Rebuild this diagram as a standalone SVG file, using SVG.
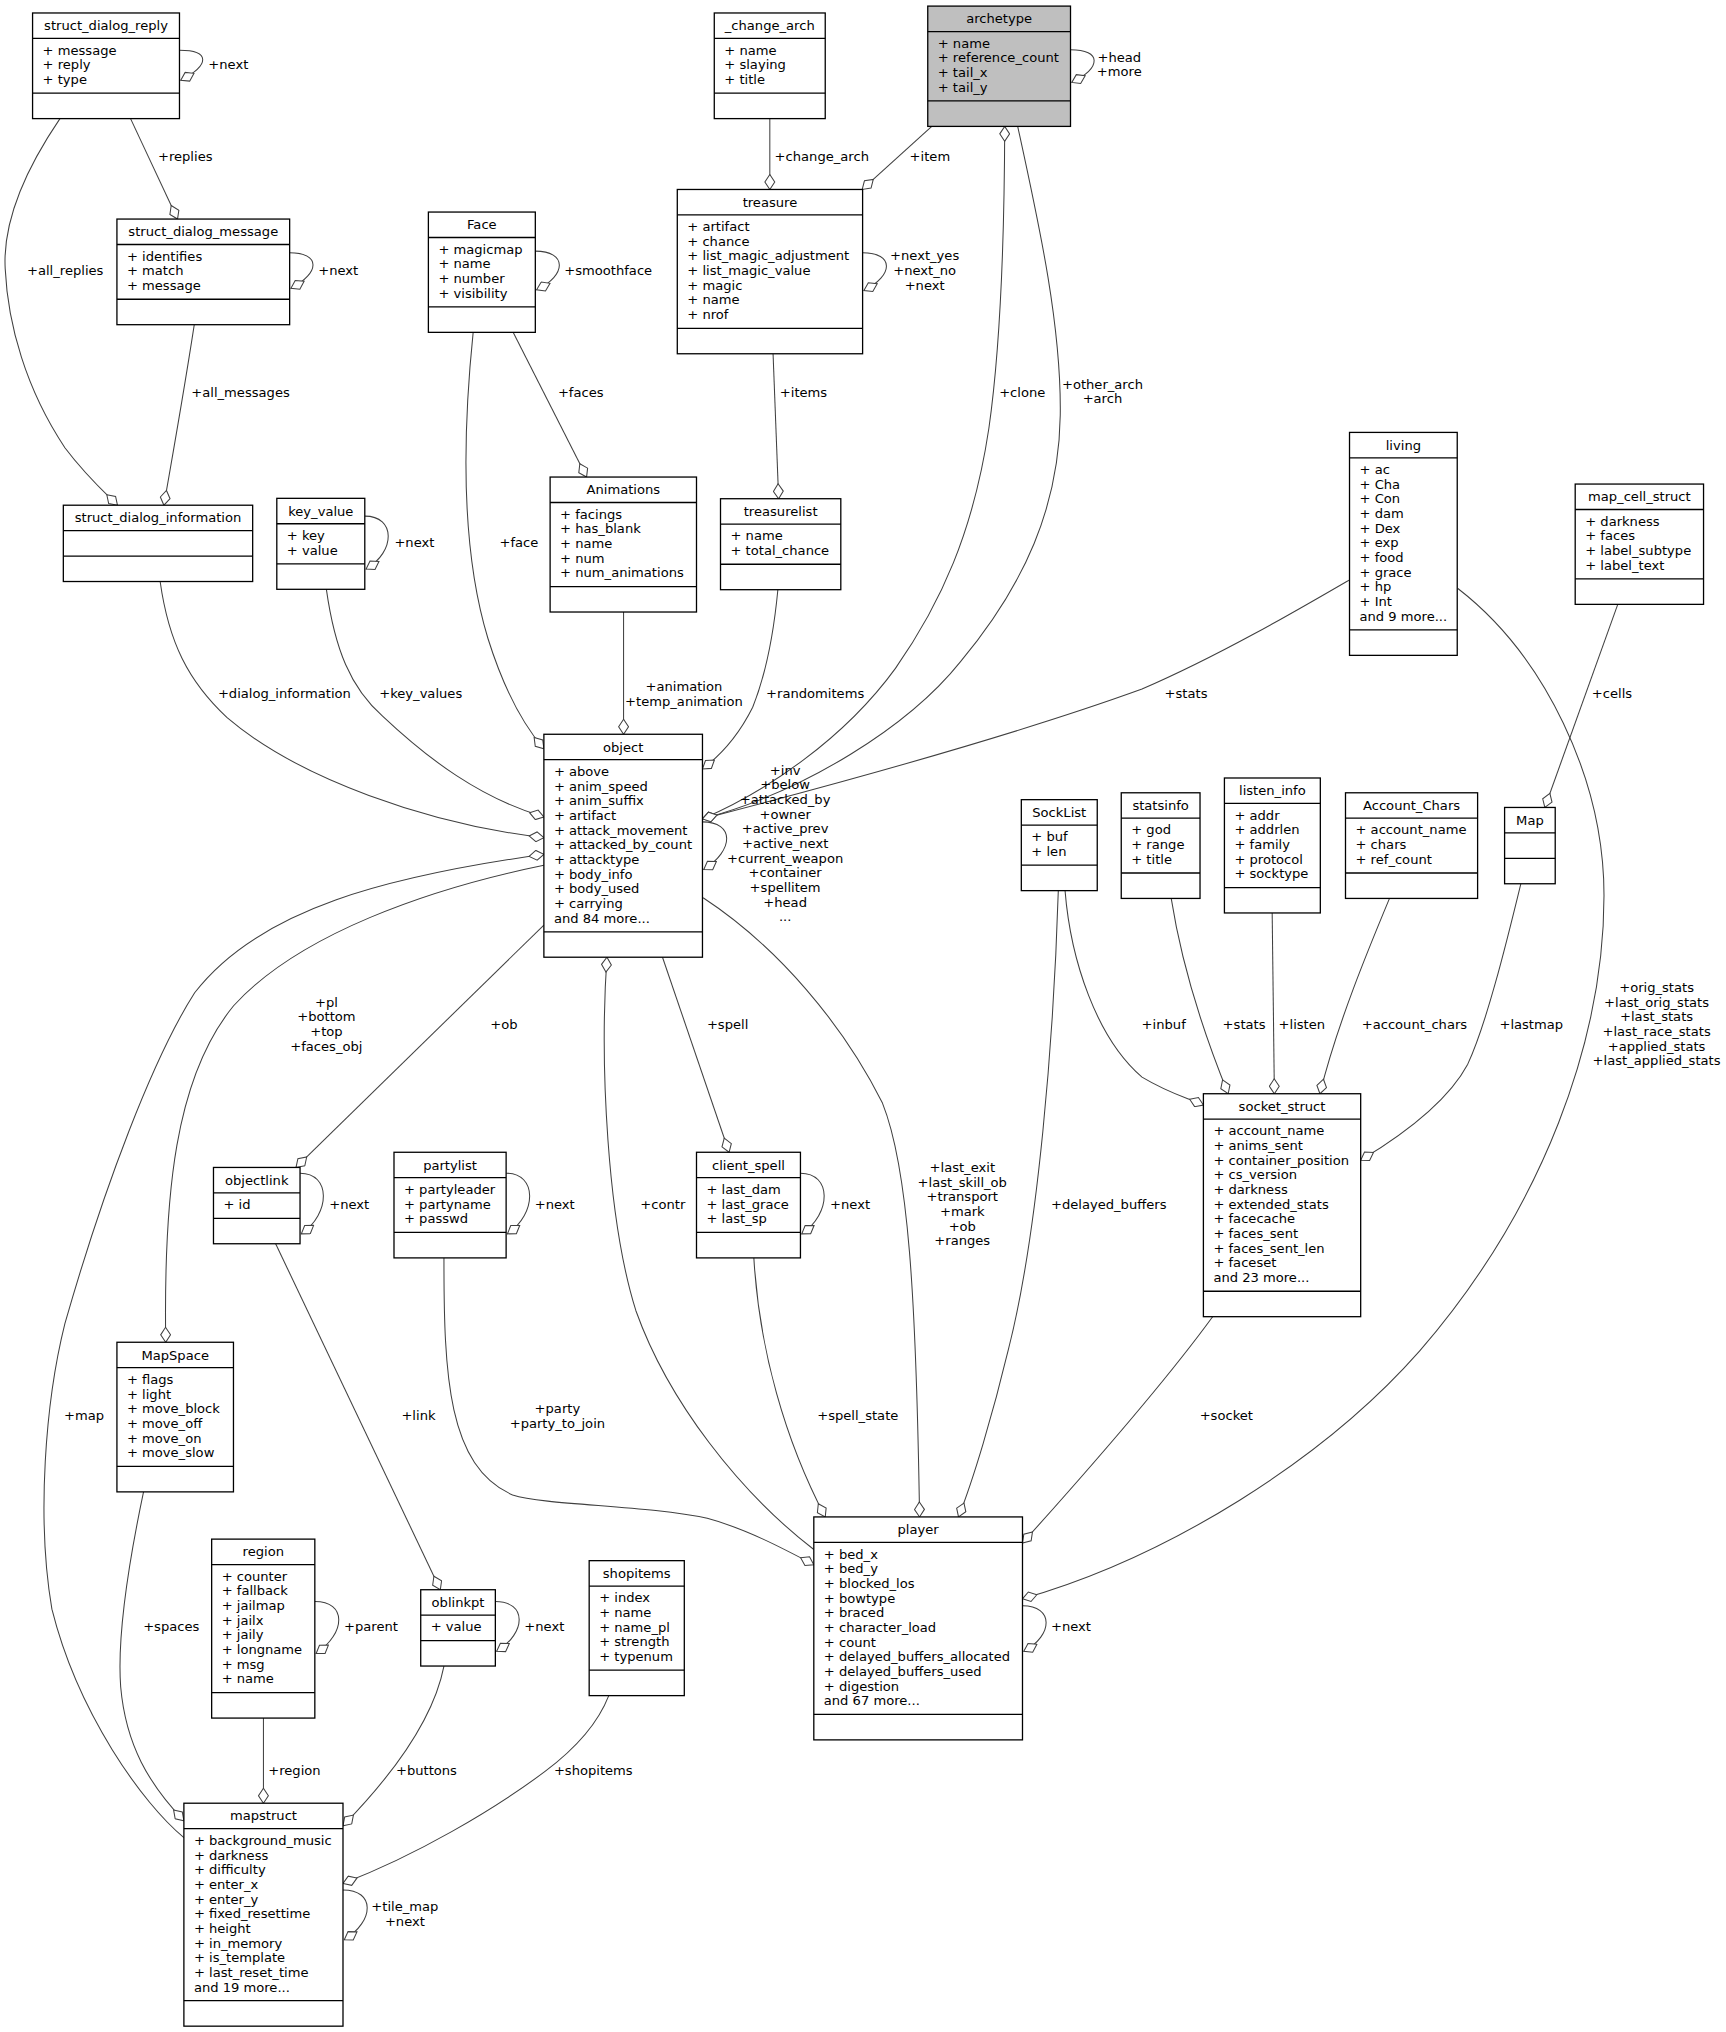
<svg xmlns="http://www.w3.org/2000/svg" width="1726" height="2032" viewBox="0 0 1726 2032">
<style>
.b{fill:#fff;stroke:#000;stroke-width:1}
.g{fill:#bfbfbf;stroke:#000;stroke-width:1}
.s{stroke:#000;stroke-width:1}
text{font-family:"DejaVu Sans","Liberation Sans",sans-serif;font-size:10.1px;fill:#000}
.t,.m{text-anchor:middle}
.e{fill:none;stroke:#404040;stroke-width:0.8;marker-end:url(#d)}
</style>
<defs>
<marker id="d" markerUnits="userSpaceOnUse" viewBox="-0.6 -0.6 12.7 8.8" refX="11.5" refY="3.8" markerWidth="12.7" markerHeight="8.8" orient="auto">
<path d="M0,3.8 L5.75,0 L11.5,3.8 L5.75,7.6 Z" fill="#fff" stroke="#404040" stroke-width="0.8"/>
</marker>
</defs>
<rect x="0" y="0" width="1726" height="2032" fill="#fff"/>
<g transform="scale(1.29774)">
<g id="edges">
<path class="e" d="M138.3,38.8 C162,38.8 162,50 139.3,61.8"/>
<path class="e" d="M100.6,91.4 L136.8,168.8"/>
<path class="e" d="M46.2,91.4 C20,130 2,170 4,207 C6,250 20,300 50,345 C65,365 78,377 90.5,389.3"/>
<path class="e" d="M149.7,250.2 C142,300 135,340 126.3,389.3"/>
<path class="e" d="M223.2,194.8 C247,194.8 247,210 224.2,222.2"/>
<path class="e" d="M123.4,448.1 C130,495 145,525 175,553 C230,600 330,635 419.1,645.5"/>
<path class="e" d="M251.5,454.1 C258,500 270,530 295,552 C330,585 370,615 419.1,629.5"/>
<path class="e" d="M281.1,397.7 C305,397.7 305,425 282.1,438.5"/>
<path class="e" d="M412.5,193.5 C437,193.5 437,212 413.5,223.3"/>
<path class="e" d="M395.4,256.1 L452,367.6"/>
<path class="e" d="M364.6,256.1 C357,330 354,420 376,492 C387,527 401,556 419.1,577"/>
<path class="e" d="M480.5,471.6 L480.5,565.8"/>
<path class="e" d="M599.4,454.4 C596,490 590,520 580,545 C570,565 558,580 541.3,592.5"/>
<path class="e" d="M593.2,91.4 L593.2,146"/>
<path class="e" d="M718,97.4 L664.4,146"/>
<path class="e" d="M824.9,38.4 C849,38.4 849,52 825.9,63.5"/>
<path class="e" d="M664.7,194.8 C689,194.8 689,212 665.7,223.9"/>
<path class="e" d="M595.7,272.6 L600,384.3"/>
<path class="e" d="M541.3,631 C590,610 650,570 690,515 C725,465 750,410 762,330 C772,260 774,170 774.2,97.4"/>
<path class="e" d="M784.2,97.4 C800,170 818,250 817,320 C816,390 790,450 740,510 C700,560 620,610 541.3,631"/>
<path class="e" d="M1039.9,446.8 C1000,470 940,505 880,531 C800,560 680,595 541.3,631"/>
<path class="e" d="M541.3,633.3 C566,633.3 566,655 542.3,670"/>
<path class="e" d="M1123.4,453.5 C1190,505 1236,600 1236,690 C1236,800 1190,930 1094,1041 C1020,1125 900,1200 787.9,1232"/>
<path class="e" d="M1246.6,465.7 L1190.4,622.2"/>
<path class="e" d="M1171.9,681 C1160,730 1145,790 1131,820 C1115,850 1080,875 1048.5,894"/>
<path class="e" d="M1070.7,692.3 C1055,730 1030,790 1017.1,842.8"/>
<path class="e" d="M980.3,703.5 L982,842.8"/>
<path class="e" d="M902.5,692.3 C910,740 925,790 946.4,842.8"/>
<path class="e" d="M820.7,686.3 C825,740 845,800 880,830 C900,842 912,845 927.3,851.5"/>
<path class="e" d="M815.5,686.3 C812,800 800,950 777,1040 C765,1090 750,1140 738.6,1168.9"/>
<path class="e" d="M934.4,1014.6 C905,1055 850,1120 787.9,1189"/>
<path class="e" d="M541.8,691.8 C600,730 650,790 680,850 C700,900 706,1000 708.6,1168.9"/>
<path class="e" d="M627.1,1194 C570,1150 515,1080 490,1010 C468,940 462,820 467.7,737.6"/>
<path class="e" d="M510.5,737.6 L561.8,887.9"/>
<path class="e" d="M616.8,904 C641,904 641,935 617.8,950.8"/>
<path class="e" d="M580.9,969.3 C585,1040 605,1110 635.9,1168.9"/>
<path class="e" d="M390,904 C414,904 414,935 391,950.8"/>
<path class="e" d="M342.1,969.3 C342,1060 345,1130 395,1152 C420,1160 500,1160 545,1170 C575,1178 605,1194 627.1,1205.7"/>
<path class="e" d="M419.1,712.8 L228.1,899.6"/>
<path class="e" d="M231.2,904 C255,904 255,935 232.2,950.8"/>
<path class="e" d="M212.4,958.4 L339.3,1225"/>
<path class="e" d="M381.7,1234.1 C406,1234.1 406,1258 382.7,1272.5"/>
<path class="e" d="M242.6,1234.1 C267,1234.1 267,1258 243.6,1274.2"/>
<path class="e" d="M203,1323.9 L203,1389.5"/>
<path class="e" d="M342.1,1283.8 C335,1320 310,1360 264.3,1406.9"/>
<path class="e" d="M469.1,1306.6 C460,1330 440,1350 420,1365 C380,1395 320,1430 264.3,1451.3"/>
<path class="e" d="M264.3,1456.3 C289,1456.3 289,1480 265.3,1494.7"/>
<path class="e" d="M110.6,1149.6 C100,1200 90,1260 93,1300 C97,1345 115,1375 141.7,1403"/>
<path class="e" d="M141.7,1416 C110,1390 60,1320 40,1240 C28,1170 35,1080 50,1020 C80,915 118,815 150,765 C200,700 300,675 419.1,658.3"/>
<path class="e" d="M419.1,666.7 C330,685 230,720 180,775 C135,830 126,920 127.7,1034.3"/>
<path class="e" d="M787.9,1237.4 C812,1237.4 812,1260 788.9,1272.5"/>
<g id="edge-labels">
<text x="160.5" y="53">+next</text>
<text x="121.7" y="123.8">+replies</text>
<text x="20.8" y="211.7">+all_replies</text>
<text x="147.4" y="306">+all_messages</text>
<text x="245.2" y="211.7">+next</text>
<text x="303.9" y="421.6">+next</text>
<text x="434.8" y="211.7">+smoothface</text>
<text x="429.9" y="306">+faces</text>
<text x="384.9" y="421.6">+face</text>
<text class="m" x="527" y="532.5">+animation</text>
<text class="m" x="527" y="543.8">+temp_animation</text>
<text x="590.3" y="537.6">+randomitems</text>
<text x="596.9" y="123.8">+change_arch</text>
<text x="700.9" y="123.8">+item</text>
<text class="m" x="862.5" y="47.6">+head</text>
<text class="m" x="862.5" y="58.9">+more</text>
<text class="m" x="712.5" y="200.5">+next_yes</text>
<text class="m" x="712.5" y="211.8">+next_no</text>
<text class="m" x="712.5" y="223.1">+next</text>
<text x="600.9" y="305.6">+items</text>
<text x="769.9" y="305.6">+clone</text>
<text class="m" x="849.5" y="299.6">+other_arch</text>
<text class="m" x="849.5" y="310.9">+arch</text>
<text x="897.4" y="537.6">+stats</text>
<text x="1226.6" y="537.6">+cells</text>
<text class="m" x="605" y="597">+inv</text>
<text class="m" x="605" y="608.3">+below</text>
<text class="m" x="605" y="619.6">+attacked_by</text>
<text class="m" x="605" y="630.9">+owner</text>
<text class="m" x="605" y="642.2">+active_prev</text>
<text class="m" x="605" y="653.5">+active_next</text>
<text class="m" x="605" y="664.8">+current_weapon</text>
<text class="m" x="605" y="676.1">+container</text>
<text class="m" x="605" y="687.4">+spellitem</text>
<text class="m" x="605" y="698.7">+head</text>
<text class="m" x="605" y="710">...</text>
<text class="m" x="1276.5" y="764.5">+orig_stats</text>
<text class="m" x="1276.5" y="775.8">+last_orig_stats</text>
<text class="m" x="1276.5" y="787.1">+last_stats</text>
<text class="m" x="1276.5" y="798.4">+last_race_stats</text>
<text class="m" x="1276.5" y="809.7">+applied_stats</text>
<text class="m" x="1276.5" y="821">+last_applied_stats</text>
<text x="1155.4" y="792.8">+lastmap</text>
<text x="1049.3" y="792.8">+account_chars</text>
<text x="985.2" y="792.8">+listen</text>
<text x="942.1" y="792.8">+stats</text>
<text x="879.7" y="792.8">+inbuf</text>
<text x="809.8" y="931.6">+delayed_buffers</text>
<text x="924.4" y="1094.2">+socket</text>
<text class="m" x="741.5" y="903.1">+last_exit</text>
<text class="m" x="741.5" y="914.4">+last_skill_ob</text>
<text class="m" x="741.5" y="925.7">+transport</text>
<text class="m" x="741.5" y="937">+mark</text>
<text class="m" x="741.5" y="948.3">+ob</text>
<text class="m" x="741.5" y="959.6">+ranges</text>
<text x="493.4" y="931.6">+contr</text>
<text x="544.7" y="792.8">+spell</text>
<text x="639.6" y="931.6">+next</text>
<text x="629.7" y="1094.2">+spell_state</text>
<text x="412" y="931.6">+next</text>
<text class="m" x="429.5" y="1088.8">+party</text>
<text class="m" x="429.5" y="1100.1">+party_to_join</text>
<text x="377.8" y="792.8">+ob</text>
<text x="253.7" y="931.6">+next</text>
<text x="309.3" y="1094.2">+link</text>
<text class="m" x="251.5" y="775.8">+pl</text>
<text class="m" x="251.5" y="787.1">+bottom</text>
<text class="m" x="251.5" y="798.4">+top</text>
<text class="m" x="251.5" y="809.7">+faces_obj</text>
<text x="167.9" y="537.6">+dialog_information</text>
<text x="292.2" y="537.6">+key_values</text>
<text x="49.3" y="1094.2">+map</text>
<text x="110.3" y="1256.6">+spaces</text>
<text x="265.1" y="1256.6">+parent</text>
<text x="404" y="1256.6">+next</text>
<text x="206.7" y="1368">+region</text>
<text x="305.1" y="1368">+buttons</text>
<text x="426.8" y="1368">+shopitems</text>
<text class="m" x="312" y="1472.6">+tile_map</text>
<text class="m" x="312" y="1483.9">+next</text>
<text x="809.8" y="1256.6">+next</text>
</g>
</g>

<g id="node-struct_dialog_reply">
<rect class="b" x="25.1" y="10" width="113.2" height="81.4"/>
<line class="s" x1="25.1" y1="29.6" x2="138.3" y2="29.6"/><line class="s" x1="25.1" y1="71.8" x2="138.3" y2="71.8"/>
<text class="t" x="81.7" y="23.3">struct_dialog_reply</text>
<text x="32.8" y="42.1"><tspan x="32.8">+ message</tspan><tspan x="32.8" dy="11.3">+ reply</tspan><tspan x="32.8" dy="11.3">+ type</tspan></text>
</g>
<g id="node-struct_dialog_message">
<rect class="b" x="90.1" y="168.8" width="133.1" height="81.4"/>
<line class="s" x1="90.1" y1="188.4" x2="223.2" y2="188.4"/><line class="s" x1="90.1" y1="230.6" x2="223.2" y2="230.6"/>
<text class="t" x="156.65" y="182.1">struct_dialog_message</text>
<text x="97.8" y="200.9"><tspan x="97.8">+ identifies</tspan><tspan x="97.8" dy="11.3">+ match</tspan><tspan x="97.8" dy="11.3">+ message</tspan></text>
</g>
<g id="node-struct_dialog_information">
<rect class="b" x="48.8" y="389.3" width="145.9" height="58.8"/>
<line class="s" x1="48.8" y1="408.9" x2="194.7" y2="408.9"/><line class="s" x1="48.8" y1="428.5" x2="194.7" y2="428.5"/>
<text class="t" x="121.75" y="402.6">struct_dialog_information</text>
</g>
<g id="node-key_value">
<rect class="b" x="213.3" y="384" width="67.8" height="70.1"/>
<line class="s" x1="213.3" y1="403.6" x2="281.1" y2="403.6"/><line class="s" x1="213.3" y1="434.5" x2="281.1" y2="434.5"/>
<text class="t" x="247.2" y="397.3">key_value</text>
<text x="221" y="416.1"><tspan x="221">+ key</tspan><tspan x="221" dy="11.3">+ value</tspan></text>
</g>
<g id="node-Face">
<rect class="b" x="330.1" y="163.4" width="82.4" height="92.7"/>
<line class="s" x1="330.1" y1="183" x2="412.5" y2="183"/><line class="s" x1="330.1" y1="236.5" x2="412.5" y2="236.5"/>
<text class="t" x="371.3" y="176.7">Face</text>
<text x="337.8" y="195.5"><tspan x="337.8">+ magicmap</tspan><tspan x="337.8" dy="11.3">+ name</tspan><tspan x="337.8" dy="11.3">+ number</tspan><tspan x="337.8" dy="11.3">+ visibility</tspan></text>
</g>
<g id="node-Animations">
<rect class="b" x="423.9" y="367.6" width="112.8" height="104"/>
<line class="s" x1="423.9" y1="387.2" x2="536.7" y2="387.2"/><line class="s" x1="423.9" y1="452" x2="536.7" y2="452"/>
<text class="t" x="480.3" y="380.9">Animations</text>
<text x="431.6" y="399.7"><tspan x="431.6">+ facings</tspan><tspan x="431.6" dy="11.3">+ has_blank</tspan><tspan x="431.6" dy="11.3">+ name</tspan><tspan x="431.6" dy="11.3">+ num</tspan><tspan x="431.6" dy="11.3">+ num_animations</tspan></text>
</g>
<g id="node-treasurelist">
<rect class="b" x="555.2" y="384.3" width="92.7" height="70.1"/>
<line class="s" x1="555.2" y1="403.9" x2="647.9" y2="403.9"/><line class="s" x1="555.2" y1="434.8" x2="647.9" y2="434.8"/>
<text class="t" x="601.55" y="397.6">treasurelist</text>
<text x="562.9" y="416.4"><tspan x="562.9">+ name</tspan><tspan x="562.9" dy="11.3">+ total_chance</tspan></text>
</g>
<g id="node-_change_arch">
<rect class="b" x="550.4" y="10" width="85.5" height="81.4"/>
<line class="s" x1="550.4" y1="29.6" x2="635.9" y2="29.6"/><line class="s" x1="550.4" y1="71.8" x2="635.9" y2="71.8"/>
<text class="t" x="593.15" y="23.3">_change_arch</text>
<text x="558.1" y="42.1"><tspan x="558.1">+ name</tspan><tspan x="558.1" dy="11.3">+ slaying</tspan><tspan x="558.1" dy="11.3">+ title</tspan></text>
</g>
<g id="node-archetype">
<rect class="g" x="714.9" y="4.7" width="110" height="92.7"/>
<line class="s" x1="714.9" y1="24.3" x2="824.9" y2="24.3"/><line class="s" x1="714.9" y1="77.8" x2="824.9" y2="77.8"/>
<text class="t" x="769.9" y="18">archetype</text>
<text x="722.6" y="36.8"><tspan x="722.6">+ name</tspan><tspan x="722.6" dy="11.3">+ reference_count</tspan><tspan x="722.6" dy="11.3">+ tail_x</tspan><tspan x="722.6" dy="11.3">+ tail_y</tspan></text>
</g>
<g id="node-treasure">
<rect class="b" x="521.9" y="146" width="142.8" height="126.6"/>
<line class="s" x1="521.9" y1="165.6" x2="664.7" y2="165.6"/><line class="s" x1="521.9" y1="253" x2="664.7" y2="253"/>
<text class="t" x="593.3" y="159.3">treasure</text>
<text x="529.6" y="178.1"><tspan x="529.6">+ artifact</tspan><tspan x="529.6" dy="11.3">+ chance</tspan><tspan x="529.6" dy="11.3">+ list_magic_adjustment</tspan><tspan x="529.6" dy="11.3">+ list_magic_value</tspan><tspan x="529.6" dy="11.3">+ magic</tspan><tspan x="529.6" dy="11.3">+ name</tspan><tspan x="529.6" dy="11.3">+ nrof</tspan></text>
</g>
<g id="node-living">
<rect class="b" x="1039.9" y="333.2" width="83" height="171.8"/>
<line class="s" x1="1039.9" y1="352.8" x2="1122.9" y2="352.8"/><line class="s" x1="1039.9" y1="485.4" x2="1122.9" y2="485.4"/>
<text class="t" x="1081.4" y="346.5">living</text>
<text x="1047.6" y="365.3"><tspan x="1047.6">+ ac</tspan><tspan x="1047.6" dy="11.3">+ Cha</tspan><tspan x="1047.6" dy="11.3">+ Con</tspan><tspan x="1047.6" dy="11.3">+ dam</tspan><tspan x="1047.6" dy="11.3">+ Dex</tspan><tspan x="1047.6" dy="11.3">+ exp</tspan><tspan x="1047.6" dy="11.3">+ food</tspan><tspan x="1047.6" dy="11.3">+ grace</tspan><tspan x="1047.6" dy="11.3">+ hp</tspan><tspan x="1047.6" dy="11.3">+ Int</tspan><tspan x="1047.6" dy="11.3">and 9 more...</tspan></text>
</g>
<g id="node-map_cell_struct">
<rect class="b" x="1213.8" y="373" width="98.9" height="92.7"/>
<line class="s" x1="1213.8" y1="392.6" x2="1312.7" y2="392.6"/><line class="s" x1="1213.8" y1="446.1" x2="1312.7" y2="446.1"/>
<text class="t" x="1263.25" y="386.3">map_cell_struct</text>
<text x="1221.5" y="405.1"><tspan x="1221.5">+ darkness</tspan><tspan x="1221.5" dy="11.3">+ faces</tspan><tspan x="1221.5" dy="11.3">+ label_subtype</tspan><tspan x="1221.5" dy="11.3">+ label_text</tspan></text>
</g>
<g id="node-object">
<rect class="b" x="419.1" y="565.8" width="122.2" height="171.8"/>
<line class="s" x1="419.1" y1="585.4" x2="541.3" y2="585.4"/><line class="s" x1="419.1" y1="718" x2="541.3" y2="718"/>
<text class="t" x="480.2" y="579.1">object</text>
<text x="426.8" y="597.9"><tspan x="426.8">+ above</tspan><tspan x="426.8" dy="11.3">+ anim_speed</tspan><tspan x="426.8" dy="11.3">+ anim_suffix</tspan><tspan x="426.8" dy="11.3">+ artifact</tspan><tspan x="426.8" dy="11.3">+ attack_movement</tspan><tspan x="426.8" dy="11.3">+ attacked_by_count</tspan><tspan x="426.8" dy="11.3">+ attacktype</tspan><tspan x="426.8" dy="11.3">+ body_info</tspan><tspan x="426.8" dy="11.3">+ body_used</tspan><tspan x="426.8" dy="11.3">+ carrying</tspan><tspan x="426.8" dy="11.3">and 84 more...</tspan></text>
</g>
<g id="node-SockList">
<rect class="b" x="787" y="616.2" width="58.5" height="70.1"/>
<line class="s" x1="787" y1="635.8" x2="845.5" y2="635.8"/><line class="s" x1="787" y1="666.7" x2="845.5" y2="666.7"/>
<text class="t" x="816.25" y="629.5">SockList</text>
<text x="794.7" y="648.3"><tspan x="794.7">+ buf</tspan><tspan x="794.7" dy="11.3">+ len</tspan></text>
</g>
<g id="node-statsinfo">
<rect class="b" x="864" y="610.9" width="60.7" height="81.4"/>
<line class="s" x1="864" y1="630.5" x2="924.7" y2="630.5"/><line class="s" x1="864" y1="672.7" x2="924.7" y2="672.7"/>
<text class="t" x="894.35" y="624.2">statsinfo</text>
<text x="871.7" y="643"><tspan x="871.7">+ god</tspan><tspan x="871.7" dy="11.3">+ range</tspan><tspan x="871.7" dy="11.3">+ title</tspan></text>
</g>
<g id="node-listen_info">
<rect class="b" x="943.5" y="599.5" width="73.9" height="104"/>
<line class="s" x1="943.5" y1="619.1" x2="1017.4" y2="619.1"/><line class="s" x1="943.5" y1="683.9" x2="1017.4" y2="683.9"/>
<text class="t" x="980.45" y="612.8">listen_info</text>
<text x="951.2" y="631.6"><tspan x="951.2">+ addr</tspan><tspan x="951.2" dy="11.3">+ addrlen</tspan><tspan x="951.2" dy="11.3">+ family</tspan><tspan x="951.2" dy="11.3">+ protocol</tspan><tspan x="951.2" dy="11.3">+ socktype</tspan></text>
</g>
<g id="node-Account_Chars">
<rect class="b" x="1036.8" y="610.9" width="101.8" height="81.4"/>
<line class="s" x1="1036.8" y1="630.5" x2="1138.6" y2="630.5"/><line class="s" x1="1036.8" y1="672.7" x2="1138.6" y2="672.7"/>
<text class="t" x="1087.7" y="624.2">Account_Chars</text>
<text x="1044.5" y="643"><tspan x="1044.5">+ account_name</tspan><tspan x="1044.5" dy="11.3">+ chars</tspan><tspan x="1044.5" dy="11.3">+ ref_count</tspan></text>
</g>
<g id="node-Map">
<rect class="b" x="1159.4" y="622.2" width="39" height="58.8"/>
<line class="s" x1="1159.4" y1="641.8" x2="1198.4" y2="641.8"/><line class="s" x1="1159.4" y1="661.4" x2="1198.4" y2="661.4"/>
<text class="t" x="1178.9" y="635.5">Map</text>
</g>
<g id="node-socket_struct">
<rect class="b" x="927.3" y="842.8" width="121.2" height="171.8"/>
<line class="s" x1="927.3" y1="862.4" x2="1048.5" y2="862.4"/><line class="s" x1="927.3" y1="995" x2="1048.5" y2="995"/>
<text class="t" x="987.9" y="856.1">socket_struct</text>
<text x="935" y="874.9"><tspan x="935">+ account_name</tspan><tspan x="935" dy="11.3">+ anims_sent</tspan><tspan x="935" dy="11.3">+ container_position</tspan><tspan x="935" dy="11.3">+ cs_version</tspan><tspan x="935" dy="11.3">+ darkness</tspan><tspan x="935" dy="11.3">+ extended_stats</tspan><tspan x="935" dy="11.3">+ facecache</tspan><tspan x="935" dy="11.3">+ faces_sent</tspan><tspan x="935" dy="11.3">+ faces_sent_len</tspan><tspan x="935" dy="11.3">+ faceset</tspan><tspan x="935" dy="11.3">and 23 more...</tspan></text>
</g>
<g id="node-objectlink">
<rect class="b" x="164.5" y="899.6" width="66.7" height="58.8"/>
<line class="s" x1="164.5" y1="919.2" x2="231.2" y2="919.2"/><line class="s" x1="164.5" y1="938.8" x2="231.2" y2="938.8"/>
<text class="t" x="197.85" y="912.9">objectlink</text>
<text x="172.2" y="931.7">+ id</text>
</g>
<g id="node-partylist">
<rect class="b" x="303.6" y="887.9" width="86.4" height="81.4"/>
<line class="s" x1="303.6" y1="907.5" x2="390" y2="907.5"/><line class="s" x1="303.6" y1="949.7" x2="390" y2="949.7"/>
<text class="t" x="346.8" y="901.2">partylist</text>
<text x="311.3" y="920"><tspan x="311.3">+ partyleader</tspan><tspan x="311.3" dy="11.3">+ partyname</tspan><tspan x="311.3" dy="11.3">+ passwd</tspan></text>
</g>
<g id="node-client_spell">
<rect class="b" x="536.7" y="887.9" width="80.1" height="81.4"/>
<line class="s" x1="536.7" y1="907.5" x2="616.8" y2="907.5"/><line class="s" x1="536.7" y1="949.7" x2="616.8" y2="949.7"/>
<text class="t" x="576.75" y="901.2">client_spell</text>
<text x="544.4" y="920"><tspan x="544.4">+ last_dam</tspan><tspan x="544.4" dy="11.3">+ last_grace</tspan><tspan x="544.4" dy="11.3">+ last_sp</tspan></text>
</g>
<g id="node-MapSpace">
<rect class="b" x="90.1" y="1034.3" width="89.8" height="115.3"/>
<line class="s" x1="90.1" y1="1053.9" x2="179.9" y2="1053.9"/><line class="s" x1="90.1" y1="1130" x2="179.9" y2="1130"/>
<text class="t" x="135" y="1047.6">MapSpace</text>
<text x="97.8" y="1066.4"><tspan x="97.8">+ flags</tspan><tspan x="97.8" dy="11.3">+ light</tspan><tspan x="97.8" dy="11.3">+ move_block</tspan><tspan x="97.8" dy="11.3">+ move_off</tspan><tspan x="97.8" dy="11.3">+ move_on</tspan><tspan x="97.8" dy="11.3">+ move_slow</tspan></text>
</g>
<g id="node-region">
<rect class="b" x="163.1" y="1186" width="79.5" height="137.9"/>
<line class="s" x1="163.1" y1="1205.6" x2="242.6" y2="1205.6"/><line class="s" x1="163.1" y1="1304.3" x2="242.6" y2="1304.3"/>
<text class="t" x="202.85" y="1199.3">region</text>
<text x="170.8" y="1218.1"><tspan x="170.8">+ counter</tspan><tspan x="170.8" dy="11.3">+ fallback</tspan><tspan x="170.8" dy="11.3">+ jailmap</tspan><tspan x="170.8" dy="11.3">+ jailx</tspan><tspan x="170.8" dy="11.3">+ jaily</tspan><tspan x="170.8" dy="11.3">+ longname</tspan><tspan x="170.8" dy="11.3">+ msg</tspan><tspan x="170.8" dy="11.3">+ name</tspan></text>
</g>
<g id="node-oblinkpt">
<rect class="b" x="324.2" y="1225" width="57.5" height="58.8"/>
<line class="s" x1="324.2" y1="1244.6" x2="381.7" y2="1244.6"/><line class="s" x1="324.2" y1="1264.2" x2="381.7" y2="1264.2"/>
<text class="t" x="352.95" y="1238.3">oblinkpt</text>
<text x="331.9" y="1257.1">+ value</text>
</g>
<g id="node-shopitems">
<rect class="b" x="454" y="1202.6" width="73.3" height="104"/>
<line class="s" x1="454" y1="1222.2" x2="527.3" y2="1222.2"/><line class="s" x1="454" y1="1287" x2="527.3" y2="1287"/>
<text class="t" x="490.65" y="1215.9">shopitems</text>
<text x="461.7" y="1234.7"><tspan x="461.7">+ index</tspan><tspan x="461.7" dy="11.3">+ name</tspan><tspan x="461.7" dy="11.3">+ name_pl</tspan><tspan x="461.7" dy="11.3">+ strength</tspan><tspan x="461.7" dy="11.3">+ typenum</tspan></text>
</g>
<g id="node-mapstruct">
<rect class="b" x="141.7" y="1389.5" width="122.6" height="171.8"/>
<line class="s" x1="141.7" y1="1409.1" x2="264.3" y2="1409.1"/><line class="s" x1="141.7" y1="1541.7" x2="264.3" y2="1541.7"/>
<text class="t" x="203" y="1402.8">mapstruct</text>
<text x="149.4" y="1421.6"><tspan x="149.4">+ background_music</tspan><tspan x="149.4" dy="11.3">+ darkness</tspan><tspan x="149.4" dy="11.3">+ difficulty</tspan><tspan x="149.4" dy="11.3">+ enter_x</tspan><tspan x="149.4" dy="11.3">+ enter_y</tspan><tspan x="149.4" dy="11.3">+ fixed_resettime</tspan><tspan x="149.4" dy="11.3">+ height</tspan><tspan x="149.4" dy="11.3">+ in_memory</tspan><tspan x="149.4" dy="11.3">+ is_template</tspan><tspan x="149.4" dy="11.3">+ last_reset_time</tspan><tspan x="149.4" dy="11.3">and 19 more...</tspan></text>
</g>
<g id="node-player">
<rect class="b" x="627.1" y="1168.9" width="160.8" height="171.8"/>
<line class="s" x1="627.1" y1="1188.5" x2="787.9" y2="1188.5"/><line class="s" x1="627.1" y1="1321.1" x2="787.9" y2="1321.1"/>
<text class="t" x="707.5" y="1182.2">player</text>
<text x="634.8" y="1201"><tspan x="634.8">+ bed_x</tspan><tspan x="634.8" dy="11.3">+ bed_y</tspan><tspan x="634.8" dy="11.3">+ blocked_los</tspan><tspan x="634.8" dy="11.3">+ bowtype</tspan><tspan x="634.8" dy="11.3">+ braced</tspan><tspan x="634.8" dy="11.3">+ character_load</tspan><tspan x="634.8" dy="11.3">+ count</tspan><tspan x="634.8" dy="11.3">+ delayed_buffers_allocated</tspan><tspan x="634.8" dy="11.3">+ delayed_buffers_used</tspan><tspan x="634.8" dy="11.3">+ digestion</tspan><tspan x="634.8" dy="11.3">and 67 more...</tspan></text>
</g>
</g>
</svg>
